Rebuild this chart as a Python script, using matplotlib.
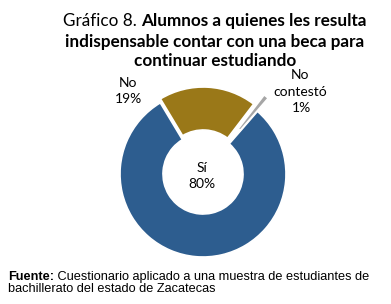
import matplotlib
matplotlib.use("Agg")
import matplotlib.pyplot as plt

labels = ["Sí", "No", "No\ncontestó"]
values = [80, 19, 1]
pct_labels = ["80%", "19%", "1%"]
colors = ["#2D5D8F", "#9A7818", "#A6A6A6"]

title_regular = "Gráfico 8. "
title_bold = ["Alumnos a quienes les resulta",
              "indispensable contar con una beca para",
              "continuar estudiando"]
source_bold = "Fuente:"
source_text = [" Cuestionario aplicado a una muestra de estudiantes de",
               "bachillerato del estado de Zacatecas"]

W, H = 391, 304
fig = plt.figure(figsize=(W / 100, H / 100), dpi=100)
fig.patch.set_facecolor("white")
ax = fig.add_axes([0, 0, 1, 1])

cx, cy = 203, H - 174
R, width = 83, 43
wedges, _ = ax.pie(values, startangle=49, counterclock=False, radius=R,
                   center=(cx, cy), colors=colors, explode=[0, 4, 17],
                   wedgeprops=dict(width=width, edgecolor="white", linewidth=1.2),
                   frame=True)
ax.set_xlim(0, W)
ax.set_ylim(0, H)
ax.set_aspect("equal")
ax.axis("off")

title_font = "Lato"
fig.canvas.draw()
r = fig.canvas.get_renderer()

# title
fs = 12.3
ys = [H - 26, H - 46.5, H - 66.5]
t1 = ax.text(0, ys[0], title_regular, fontsize=fs, family=title_font, ha="left", va="baseline")
t2 = ax.text(0, ys[0], title_bold[0], fontsize=fs, family=title_font, weight="bold", ha="left", va="baseline")
fig.canvas.draw()
w1 = t1.get_window_extent(r).width
w2 = t2.get_window_extent(r).width
xc = 215
x0 = xc - (w1 + w2) / 2
t1.set_x(x0)
t2.set_x(x0 + w1)
for i in (1, 2):
    ax.text(xc, ys[i], title_bold[i], fontsize=fs, family=title_font, weight="bold",
            ha="center", va="baseline")

# labels
lf = 10
ax.text(202, H - 168, "Sí", fontsize=lf, family=title_font, ha="center", va="center")
ax.text(202, H - 184, "80%", fontsize=lf, family=title_font, ha="center", va="center")
ax.text(128, H - 83, "No", fontsize=lf, family=title_font, ha="center", va="center")
ax.text(128, H - 99, "19%", fontsize=lf, family=title_font, ha="center", va="center")
ax.text(300, H - 75, "No", fontsize=lf, family=title_font, ha="center", va="center")
ax.text(300, H - 92, "contestó", fontsize=lf, family=title_font, ha="center", va="center")
ax.text(301, H - 108, "1%", fontsize=lf, family=title_font, ha="center", va="center")

# source
sf = 9.2
s1 = ax.text(8, H - 280, source_bold, fontsize=sf, family="Liberation Sans", weight="bold",
             ha="left", va="baseline")
fig.canvas.draw()
ws = s1.get_window_extent(r).width
ax.text(8 + ws, H - 280, source_text[0], fontsize=sf, family="Liberation Sans",
        ha="left", va="baseline")
ax.text(8, H - 292, source_text[1], fontsize=sf, family="Liberation Sans",
        ha="left", va="baseline")

fig.savefig("out.png", dpi=100, facecolor="white")
